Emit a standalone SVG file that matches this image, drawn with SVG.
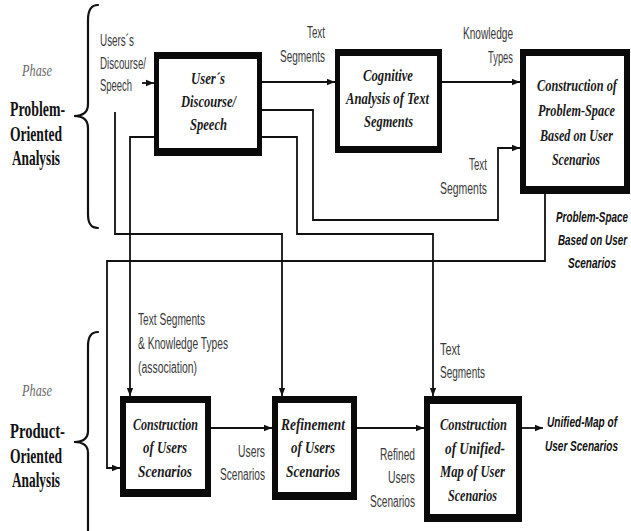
<svg xmlns="http://www.w3.org/2000/svg" width="631" height="531" viewBox="0 0 631 531">
  <defs>
    <style>
      .frame { fill: #0a0a0a; }
      .inner { fill: #ffffff; }
      .box-text { font-family: "Liberation Serif", "Times New Roman", serif; font-weight: bold; font-style: italic; font-size: 17.5px; fill: #1a1a1a; }
      .label { font-family: "Liberation Sans", Arial, sans-serif; font-size: 16px; fill: #3a3a3a; }
      .out-label { font-family: "Liberation Sans", Arial, sans-serif; font-size: 15.5px; font-weight: bold; font-style: italic; fill: #111111; }
      .phase { font-family: "Liberation Serif", "Times New Roman", serif; font-style: italic; font-size: 16px; fill: #6a6a6a; }
      .phase-name { font-family: "Liberation Serif", "Times New Roman", serif; font-weight: bold; font-size: 20px; fill: #111111; }
      .wire { fill: none; stroke: #111111; stroke-width: 1.8; }
      .brace { fill: none; stroke: #111111; stroke-width: 2.2; stroke-linecap: round; }
    </style>
    <marker id="arrow" markerUnits="userSpaceOnUse" markerWidth="9" markerHeight="8" refX="8" refY="4" orient="auto">
      <path d="M0,0.8 L8,4 L0,7.2 Z" fill="#111111"/>
    </marker>
  </defs>

  <rect x="0" y="0" width="631" height="531" fill="#ffffff"/>

  <!-- Phase braces and titles -->
  <g id="phase-problem">
    <path class="brace" d="M98,5 C91,5 88,10 88,20 L88,104 C88,112 83,116 74,116 C83,116 88,120 88,128 L88,214 C88,224 91,228 98,228"/>
    <text class="phase" x="22" y="76" textLength="30" lengthAdjust="spacingAndGlyphs">Phase</text>
    <text class="phase-name" x="10" y="116" textLength="55" lengthAdjust="spacingAndGlyphs">Problem-</text>
    <text class="phase-name" x="10" y="141" textLength="52" lengthAdjust="spacingAndGlyphs">Oriented</text>
    <text class="phase-name" x="12" y="165" textLength="48" lengthAdjust="spacingAndGlyphs">Analysis</text>
  </g>
  <g id="phase-product">
    <path class="brace" d="M98,332 C91,332 88,337 88,346 L88,431 C88,438 83,442 74,442 C83,442 88,446 88,453 L88,540"/>
    <text class="phase" x="22" y="396" textLength="30" lengthAdjust="spacingAndGlyphs">Phase</text>
    <text class="phase-name" x="10" y="438" textLength="55" lengthAdjust="spacingAndGlyphs">Product-</text>
    <text class="phase-name" x="10" y="463" textLength="52" lengthAdjust="spacingAndGlyphs">Oriented</text>
    <text class="phase-name" x="12" y="487" textLength="48" lengthAdjust="spacingAndGlyphs">Analysis</text>
  </g>

  <!-- Connectors -->
  <g id="connectors">
    <path class="wire" d="M142,83 L154,83" marker-end="url(#arrow)"/>
    <path class="wire" d="M262,82 L335,82" marker-end="url(#arrow)"/>
    <path class="wire" d="M442,82 L520,82" marker-end="url(#arrow)"/>
    <path class="wire" d="M262,110 L313,110 L313,220 L498,220 L498,148 L520,148" marker-end="url(#arrow)"/>
    <path class="wire" d="M262,137 L297,137 L297,234 L433,234 L433,396" marker-end="url(#arrow)"/>
    <path class="wire" d="M154,137 L130,137 L130,396" marker-end="url(#arrow)"/>
    <path class="wire" d="M115,112 L115,234 L282,234 L282,396" marker-end="url(#arrow)"/>
    <path class="wire" d="M545,194 L545,261 L107,261 L107,468 L120,468" marker-end="url(#arrow)"/>
    <path class="wire" d="M211,428 L272,428" marker-end="url(#arrow)"/>
    <path class="wire" d="M357,428 L424,428" marker-end="url(#arrow)"/>
    <path class="wire" d="M522,428 L543,428" marker-end="url(#arrow)"/>
  </g>

  <!-- Connector labels -->
  <g id="labels">
    <text class="label" x="100" y="46" textLength="34" lengthAdjust="spacingAndGlyphs">Users´s</text>
    <text class="label" x="100" y="69" textLength="46" lengthAdjust="spacingAndGlyphs">Discourse/</text>
    <text class="label" x="100" y="91" textLength="32" lengthAdjust="spacingAndGlyphs">Speech</text>

    <text class="label" x="307" y="38" textLength="18" lengthAdjust="spacingAndGlyphs">Text</text>
    <text class="label" x="280" y="62" textLength="45" lengthAdjust="spacingAndGlyphs">Segments</text>

    <text class="label" x="463" y="39" textLength="50" lengthAdjust="spacingAndGlyphs">Knowledge</text>
    <text class="label" x="488" y="63" textLength="25" lengthAdjust="spacingAndGlyphs">Types</text>

    <text class="label" x="469" y="170" textLength="18" lengthAdjust="spacingAndGlyphs">Text</text>
    <text class="label" x="440" y="194" textLength="47" lengthAdjust="spacingAndGlyphs">Segments</text>

    <!-- narrow labels near the right edge: condensed with a horizontal scale -->
    <text class="out-label" transform="translate(556,222) scale(0.65,1)" textLength="110.8" lengthAdjust="spacingAndGlyphs">Problem-Space</text>
    <text class="out-label" transform="translate(558,245) scale(0.65,1)" textLength="106.2" lengthAdjust="spacingAndGlyphs">Based on User</text>
    <text class="out-label" transform="translate(568,268) scale(0.65,1)" textLength="73.8" lengthAdjust="spacingAndGlyphs">Scenarios</text>

    <text class="label" x="138" y="325" textLength="67" lengthAdjust="spacingAndGlyphs">Text Segments</text>
    <text class="label" x="138" y="349" textLength="90" lengthAdjust="spacingAndGlyphs">&amp; Knowledge Types</text>
    <text class="label" x="138" y="373" textLength="59" lengthAdjust="spacingAndGlyphs">(association)</text>

    <text class="label" x="238" y="457" textLength="27" lengthAdjust="spacingAndGlyphs">Users</text>
    <text class="label" x="220" y="480" textLength="45" lengthAdjust="spacingAndGlyphs">Scenarios</text>

    <text class="label" x="440" y="355" textLength="20" lengthAdjust="spacingAndGlyphs">Text</text>
    <text class="label" x="440" y="378" textLength="45" lengthAdjust="spacingAndGlyphs">Segments</text>

    <text class="label" x="380" y="460" textLength="35" lengthAdjust="spacingAndGlyphs">Refined</text>
    <text class="label" x="388" y="483" textLength="27" lengthAdjust="spacingAndGlyphs">Users</text>
    <text class="label" x="370" y="507" textLength="45" lengthAdjust="spacingAndGlyphs">Scenarios</text>

    <text class="out-label" transform="translate(547,427) scale(0.65,1)" textLength="107.7" lengthAdjust="spacingAndGlyphs">Unified-Map of</text>
    <text class="out-label" transform="translate(545,451) scale(0.65,1)" textLength="112.3" lengthAdjust="spacingAndGlyphs">User Scenarios</text>
  </g>

  <!-- Process nodes -->
  <g id="users-discourse">
    <rect class="frame" x="154" y="52" width="108" height="104"/>
    <rect class="inner" x="159" y="59" width="98" height="89"/>
    <text class="box-text" x="191" y="84" textLength="34" lengthAdjust="spacingAndGlyphs">User´s</text>
    <text class="box-text" x="181" y="107" textLength="55" lengthAdjust="spacingAndGlyphs">Discourse/</text>
    <text class="box-text" x="190" y="130" textLength="37" lengthAdjust="spacingAndGlyphs">Speech</text>
  </g>

  <g id="cognitive-analysis">
    <rect class="frame" x="335" y="49" width="107" height="104"/>
    <rect class="inner" x="340" y="56" width="97" height="90"/>
    <text class="box-text" x="363" y="81" textLength="50" lengthAdjust="spacingAndGlyphs">Cognitive</text>
    <text class="box-text" x="346" y="104" textLength="83" lengthAdjust="spacingAndGlyphs">Analysis of Text</text>
    <text class="box-text" x="364" y="127" textLength="49" lengthAdjust="spacingAndGlyphs">Segments</text>
  </g>

  <g id="problem-space">
    <rect class="frame" x="520" y="49" width="110" height="145"/>
    <rect class="inner" x="526" y="56" width="98" height="130"/>
    <text class="box-text" transform="translate(537,91) scale(0.65,1)" textLength="123" lengthAdjust="spacingAndGlyphs">Construction of</text>
    <text class="box-text" transform="translate(538,116) scale(0.65,1)" textLength="118.5" lengthAdjust="spacingAndGlyphs">Problem-Space</text>
    <text class="box-text" transform="translate(540,141) scale(0.65,1)" textLength="112.3" lengthAdjust="spacingAndGlyphs">Based on User</text>
    <text class="box-text" transform="translate(552,165) scale(0.65,1)" textLength="73.8" lengthAdjust="spacingAndGlyphs">Scenarios</text>
  </g>

  <g id="users-scenarios">
    <rect class="frame" x="120" y="396" width="91" height="101"/>
    <rect class="inner" x="126" y="403" width="79" height="86"/>
    <text class="box-text" x="133" y="430" textLength="65" lengthAdjust="spacingAndGlyphs">Construction</text>
    <text class="box-text" x="143" y="453" textLength="44" lengthAdjust="spacingAndGlyphs">of Users</text>
    <text class="box-text" x="138" y="477" textLength="54" lengthAdjust="spacingAndGlyphs">Scenarios</text>
  </g>

  <g id="refinement">
    <rect class="frame" x="272" y="396" width="85" height="104"/>
    <rect class="inner" x="278" y="403" width="73" height="89"/>
    <text class="box-text" x="281" y="430" textLength="64" lengthAdjust="spacingAndGlyphs">Refinement</text>
    <text class="box-text" x="291" y="453" textLength="44" lengthAdjust="spacingAndGlyphs">of Users</text>
    <text class="box-text" x="286" y="477" textLength="54" lengthAdjust="spacingAndGlyphs">Scenarios</text>
  </g>

  <g id="unified-map">
    <rect class="frame" x="424" y="396" width="98" height="126"/>
    <rect class="inner" x="430" y="404" width="86" height="110"/>
    <text class="box-text" x="440" y="430" textLength="67" lengthAdjust="spacingAndGlyphs">Construction</text>
    <text class="box-text" x="445" y="454" textLength="60" lengthAdjust="spacingAndGlyphs">of Unified-</text>
    <text class="box-text" x="440" y="477" textLength="65" lengthAdjust="spacingAndGlyphs">Map of User</text>
    <text class="box-text" x="448" y="501" textLength="49" lengthAdjust="spacingAndGlyphs">Scenarios</text>
  </g>
</svg>
